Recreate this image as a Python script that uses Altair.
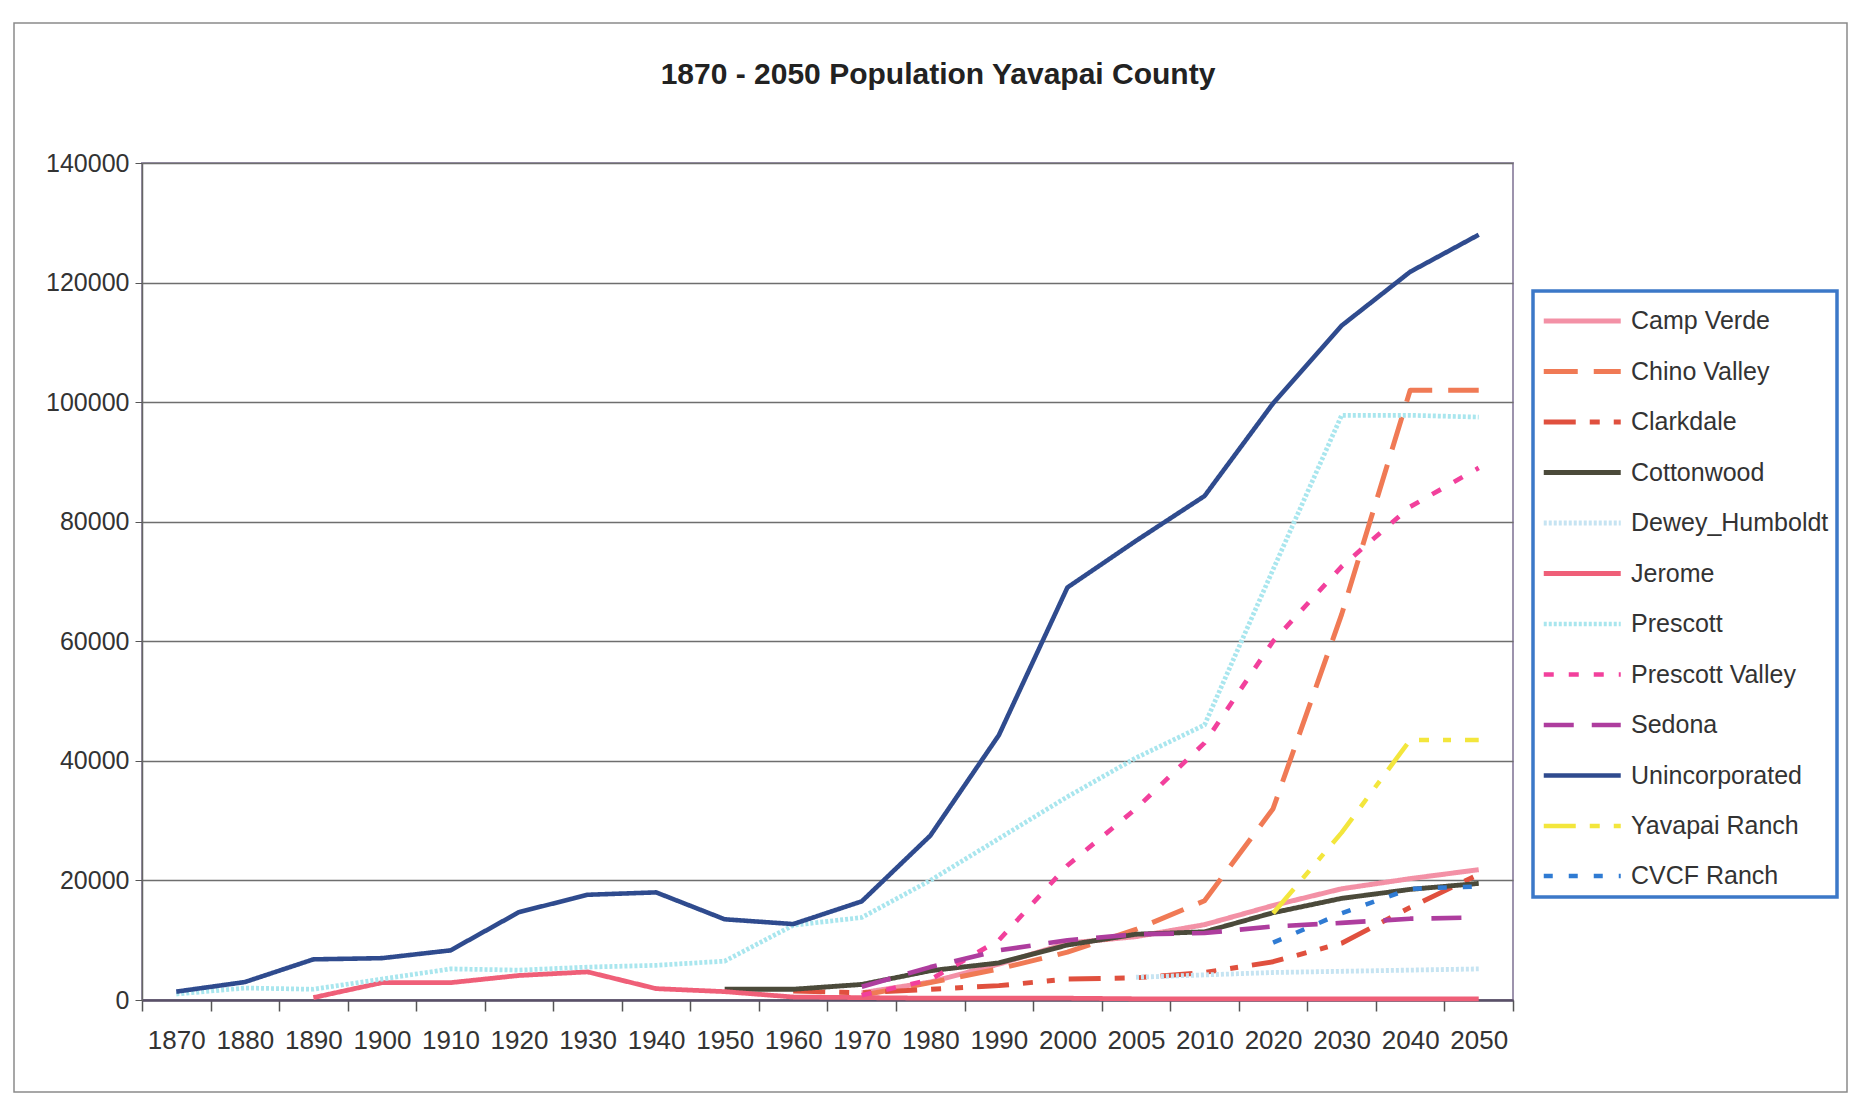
import altair as alt
import pandas as pd

years = ["1870", "1880", "1890", "1900", "1910", "1920", "1930", "1940", "1950", "1960",
         "1970", "1980", "1990", "2000", "2005", "2010", "2020", "2030", "2040", "2050"]

series_names = ["Camp Verde", "Chino Valley", "Clarkdale", "Cottonwood", "Dewey_Humboldt",
                "Jerome", "Prescott", "Prescott Valley", "Sedona", "Unincorporated",
                "Yavapai Ranch", "CVCF Ranch"]

title_text = ["1870 - 2050 Population Yavapai County"]

camp_verde = [None, None, None, None, None, None, None, None, None, None,
              1200, 3000, 6000, 9500, 10600, 12600, 15800, 18600, 20300, 21800]
chino_valley = [None, None, None, None, None, None, None, None, None, None,
                800, 2900, 5200, 8000, 11800, 16600, 32000, 64500, 102000, 102000]
clarkdale = [None, None, None, None, None, None, None, None, None, 1500,
             1200, 1800, 2400, 3500, 3700, 4600, 6400, 9500, 15500, 21000]
cottonwood = [None, None, None, None, None, None, None, None, 1800, 1800,
              2600, 4900, 6200, 9200, 11000, 11400, 14600, 17000, 18500, 19500]
dewey_humboldt = [None, None, None, None, None, None, None, None, None, None,
                  None, None, None, None, 3800, 4200, 4600, 4800, 5000, 5200]
jerome = [None, None, 400, 2900, 2900, 4100, 4700, 1900, 1400, 500,
          400, 300, 300, 300, 200, 200, 200, 200, 200, 200]
prescott = [1000, 2000, 1800, 3500, 5200, 5000, 5500, 5800, 6500, 12500,
            13800, 20000, 27000, 34000, 40500, 46000, 72000, 97800, 97800, 97500]
prescott_valley = [None, None, None, None, None, None, None, None, None, None,
                   800, 3400, 10000, 22500, 32000, 43000, 60000, 72500, 82500, 89000]
sedona = [None, None, None, None, None, None, None, None, None, None,
          2200, 5500, 8300, 10000, 11000, 11200, 12300, 12900, 13600, 13800]
unincorporated = [1400, 3000, 6800, 7000, 8300, 14700, 17600, 18000, 13500, 12700,
                  16500, 27500, 44300, 69000, 76800, 84300, 99800, 112800, 121800, 128000]
yavapai_ranch = [None, None, None, None, None, None, None, None, None, None,
                 None, None, None, None, None, None, 14500, 28000, 43500, 43500]
cvcf_ranch = [None, None, None, None, None, None, None, None, None, None,
              None, None, None, None, None, None, 9600, 14500, 18600, 19000]

all_series = [camp_verde, chino_valley, clarkdale, cottonwood, dewey_humboldt, jerome,
              prescott, prescott_valley, sedona, unincorporated, yavapai_ranch, cvcf_ranch]

colors = ["#F391A6", "#F07A55", "#E0503E", "#4B4A3A", "#C6E4F2", "#EF5F78",
          "#A9E6EE", "#F2409C", "#AE3D9E", "#2F4B8E", "#F3E63C", "#2F7BD3"]
dashes = [[1, 0], [34, 16], [32, 14, 10, 14, 8, 14], [1, 0], [3, 2], [1, 0],
          [3, 2], [10, 15], [30, 18], [1, 0], [32, 14, 10, 14, 8, 14], [9, 16]]
widths = [5, 4.5, 5, 5, 3, 5, 3.5, 5, 5.5, 4.5, 4, 5]

rows = []
for name, vals in zip(series_names, all_series):
    for y, v in zip(years, vals):
        if v is not None:
            rows.append({"year": y, "series": name, "pop": v})
df = pd.DataFrame(rows)

FONT = "Liberation Sans"

lines = alt.Chart(df).mark_line(strokeJoin="round", strokeCap="butt").encode(
    x=alt.X("year:O", sort=years, bandPosition=0.5,
            scale=alt.Scale(type="band", paddingInner=0, paddingOuter=0),
            axis=alt.Axis(title=None, tickBand="extent", labelAngle=0, labelOverlap=False,
                          labelFontSize=26, labelColor="#333333", labelFont=FONT,
                          tickSize=11, tickColor="#555555", tickWidth=1.5,
                          labelPadding=16, domainColor="#5a5068", domainWidth=2.5,
                          grid=False)),
    y=alt.Y("pop:Q", scale=alt.Scale(domain=[0, 140000], nice=False),
            axis=alt.Axis(title=None, values=list(range(0, 140001, 20000)), format="d",
                          labelFontSize=25, labelColor="#333333", labelFont=FONT,
                          tickSize=7, tickColor="#555555", labelPadding=6,
                          domainColor="#666666", domainWidth=1.5,
                          grid=True, gridColor="#6e6e6e", gridWidth=1.4)),
    color=alt.Color("series:N", sort=series_names,
                    scale=alt.Scale(domain=series_names, range=colors),
                    legend=alt.Legend(title=None, orient="none", legendX=1391, legendY=128,
                                      strokeColor="#3c78c8",
                                      fillColor="#ffffff", padding=8,
                                      symbolType="M-1,0H3", symbolSize=1482,
                                      symbolStrokeWidth=4.5, labelOffset=46,
                                      rowPadding=15.5, labelFontSize=25, labelFont=FONT,
                                      labelColor="#333333", labelLimit=400)),
    strokeDash=alt.StrokeDash("series:N", sort=series_names,
                              scale=alt.Scale(domain=series_names, range=dashes),
                              legend=None),
    strokeWidth=alt.StrokeWidth("series:N", sort=series_names,
                                scale=alt.Scale(domain=series_names, range=widths),
                                legend=None),
)

frame = alt.Chart(pd.DataFrame({"k": [0]})).mark_rect(
    filled=False, stroke="#8a8a8a", strokeWidth=1.5, clip=False
).encode(x=alt.value(-128), x2=alt.value(1705), y=alt.value(-140), y2=alt.value(929))

title = alt.Chart(pd.DataFrame({"t": title_text})).mark_text(
    font=FONT, fontSize=30, fontWeight="bold", color="#222222",
    align="center", baseline="middle", clip=False
).encode(text="t:N", x=alt.value(796), y=alt.value(-88))

chart = alt.layer(frame, lines, title).properties(
    width=1371, height=837,
    autosize=alt.AutoSizeParams(type="none"),
    padding={"left": 134, "top": 155, "right": 336, "bottom": 94},
).configure_view(stroke="#9d93ad", strokeWidth=2).configure_legend(strokeWidth=3.5)

chart.save("out.html", embed_options={"renderer": "svg", "actions": False})
